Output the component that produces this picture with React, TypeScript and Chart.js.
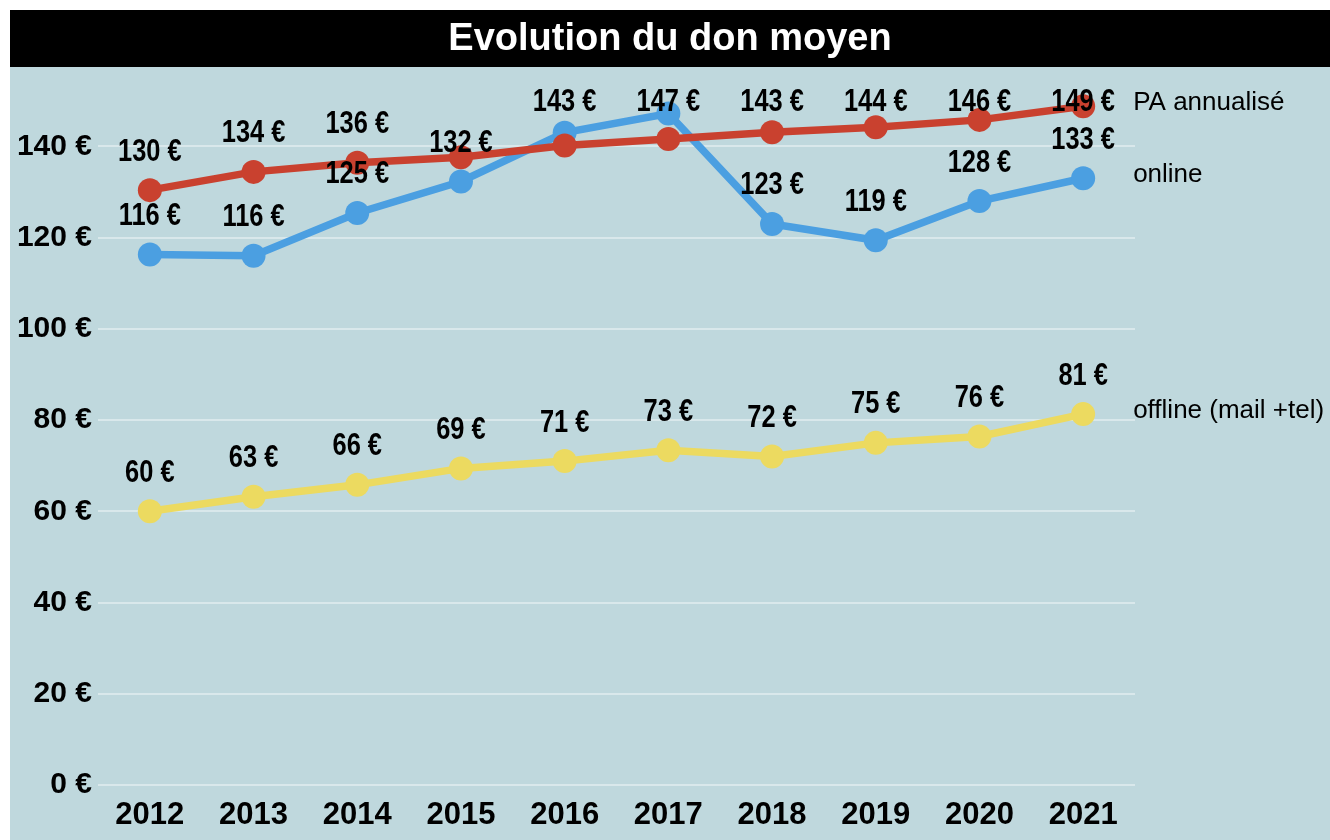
import React, { useEffect, useRef } from "react";
import { Chart, registerables } from "chart.js";

Chart.register(...registerables);

const years = ["2012", "2013", "2014", "2015", "2016", "2017", "2018", "2019", "2020", "2021"];
const paAnnualise = [130.4, 134.4, 136.4, 137.6, 140.2, 141.6, 143.1, 144.2, 145.8, 148.8];
const online = [116.3, 116.0, 125.4, 132.3, 143.0, 147.2, 123.0, 119.4, 128.0, 133.0];
const offline = [60.0, 63.2, 65.8, 69.4, 71.0, 73.4, 72.0, 75.0, 76.4, 81.3];
const paShowLabel = [true, true, true, false, false, false, true, true, true, true];
const seriesNames = ["PA annualisé", "online", "offline (mail +tel)"];
const yTicks = [0, 20, 40, 60, 80, 100, 120, 140];

const COLORS = ["#c9412f", "#4b9fe1", "#ecda60"];
const BG = "#bfd8dd";

const backgroundPlugin = {
  id: "bgPanel",
  beforeDraw(chart: any) {
    const { ctx, width, height } = chart;
    ctx.save();
    ctx.fillStyle = "#ffffff";
    ctx.fillRect(0, 0, width, height);
    ctx.fillStyle = BG;
    ctx.fillRect(10, 67, width - 10, height - 67);
    ctx.fillStyle = "#000000";
    ctx.fillRect(10, 10, width - 10, 57);
    ctx.restore();
  },
};

const labelPlugin = {
  id: "valueLabels",
  afterDatasetsDraw(chart: any) {
    const { ctx, chartArea } = chart;
    ctx.save();
    chart.data.datasets.forEach((ds: any, di: number) => {
      const meta = chart.getDatasetMeta(di);
      meta.data.forEach((pt: any, i: number) => {
        if (ds.showLabels && !ds.showLabels[i]) return;
        const v = ds.data[i];
        const cy = Math.max(pt.y - 38, chartArea.top + 11);
        ctx.save();
        ctx.translate(pt.x, cy);
        ctx.scale(0.82, 1);
        ctx.font = 'bold 31px "Liberation Sans", Arial, sans-serif';
        ctx.fillStyle = "#000000";
        ctx.textAlign = "center";
        ctx.textBaseline = "middle";
        ctx.fillText(Math.round(v) + " €", 0, 0);
        ctx.restore();
      });
      const last = meta.data[meta.data.length - 1];
      if (last) {
        ctx.font = '26px "Liberation Sans", Arial, sans-serif';
        ctx.fillStyle = "#000000";
        ctx.textAlign = "left";
        ctx.textBaseline = "middle";
        ctx.fillText(ds.label, last.x + 50, last.y - 3);
      }
    });
    ctx.restore();
  },
};

export default function App() {
  const canvasRef = useRef<HTMLCanvasElement | null>(null);

  useEffect(() => {
    if (!canvasRef.current) return;
    const mk = (label: string, data: number[], color: string, extra: any = {}) => ({
      label,
      data,
      borderColor: color,
      backgroundColor: color,
      pointBackgroundColor: color,
      pointBorderColor: color,
      pointBorderWidth: 0,
      pointRadius: 12,
      pointHoverRadius: 12,
      borderWidth: 7.5,
      tension: 0,
      clip: false,
      ...extra,
    });
    const chart = new Chart(canvasRef.current, {
      type: "line",
      data: {
        labels: years,
        datasets: [
          mk(seriesNames[0], paAnnualise, COLORS[0], { showLabels: paShowLabel }),
          mk(seriesNames[1], online, COLORS[1]),
          mk(seriesNames[2], offline, COLORS[2]),
        ] as any,
      },
      options: {
        animation: false,
        responsive: false,
        layout: { padding: { left: 10, right: 0, top: 0, bottom: 0 } },
        plugins: {
          legend: { display: false },
          tooltip: { enabled: false },
          title: {
            display: true,
            text: "Evolution du don moyen",
            color: "#ffffff",
            font: { family: '"Liberation Sans", Arial, sans-serif', size: 38, weight: "bold" },
            padding: { top: 17, bottom: 29 },
          },
        },
        scales: {
          x: {
            type: "category",
            offset: true,
            grid: { display: false },
            border: { display: false },
            ticks: {
              color: "#000000",
              font: { family: '"Liberation Sans", Arial, sans-serif', size: 31, weight: "bold" },
              padding: 4,
              maxRotation: 0,
              autoSkip: false,
            },
            afterFit: (s: any) => {
              s.height = 55;
            },
          },
          y: {
            type: "linear",
            position: "left",
            min: 0,
            max: 152,
            afterBuildTicks: (s: any) => {
              s.ticks = yTicks.map((v) => ({ value: v }));
            },
            ticks: {
              color: "#000000",
              font: { family: '"Liberation Sans", Arial, sans-serif', size: 30, weight: "bold" },
              padding: 6,
              callback: (v: any) => v + " €",
            },
            grid: { color: "#d9e8eb", lineWidth: 2, drawTicks: false },
            border: { display: false },
            afterFit: (s: any) => {
              s.width = 88;
            },
          },
          yRight: {
            type: "linear",
            position: "right",
            display: true,
            grid: { display: false },
            border: { display: false },
            ticks: { display: false },
            afterFit: (s: any) => {
              s.width = 195;
            },
          },
        },
      } as any,
      plugins: [backgroundPlugin, labelPlugin],
    });
    return () => chart.destroy();
  }, []);

  return (
    <div style={{ position: "fixed", left: 0, top: 0, width: 1330, height: 840 }}>
      <canvas ref={canvasRef} width={1330} height={840} style={{ display: "block" }} />
    </div>
  );
}
